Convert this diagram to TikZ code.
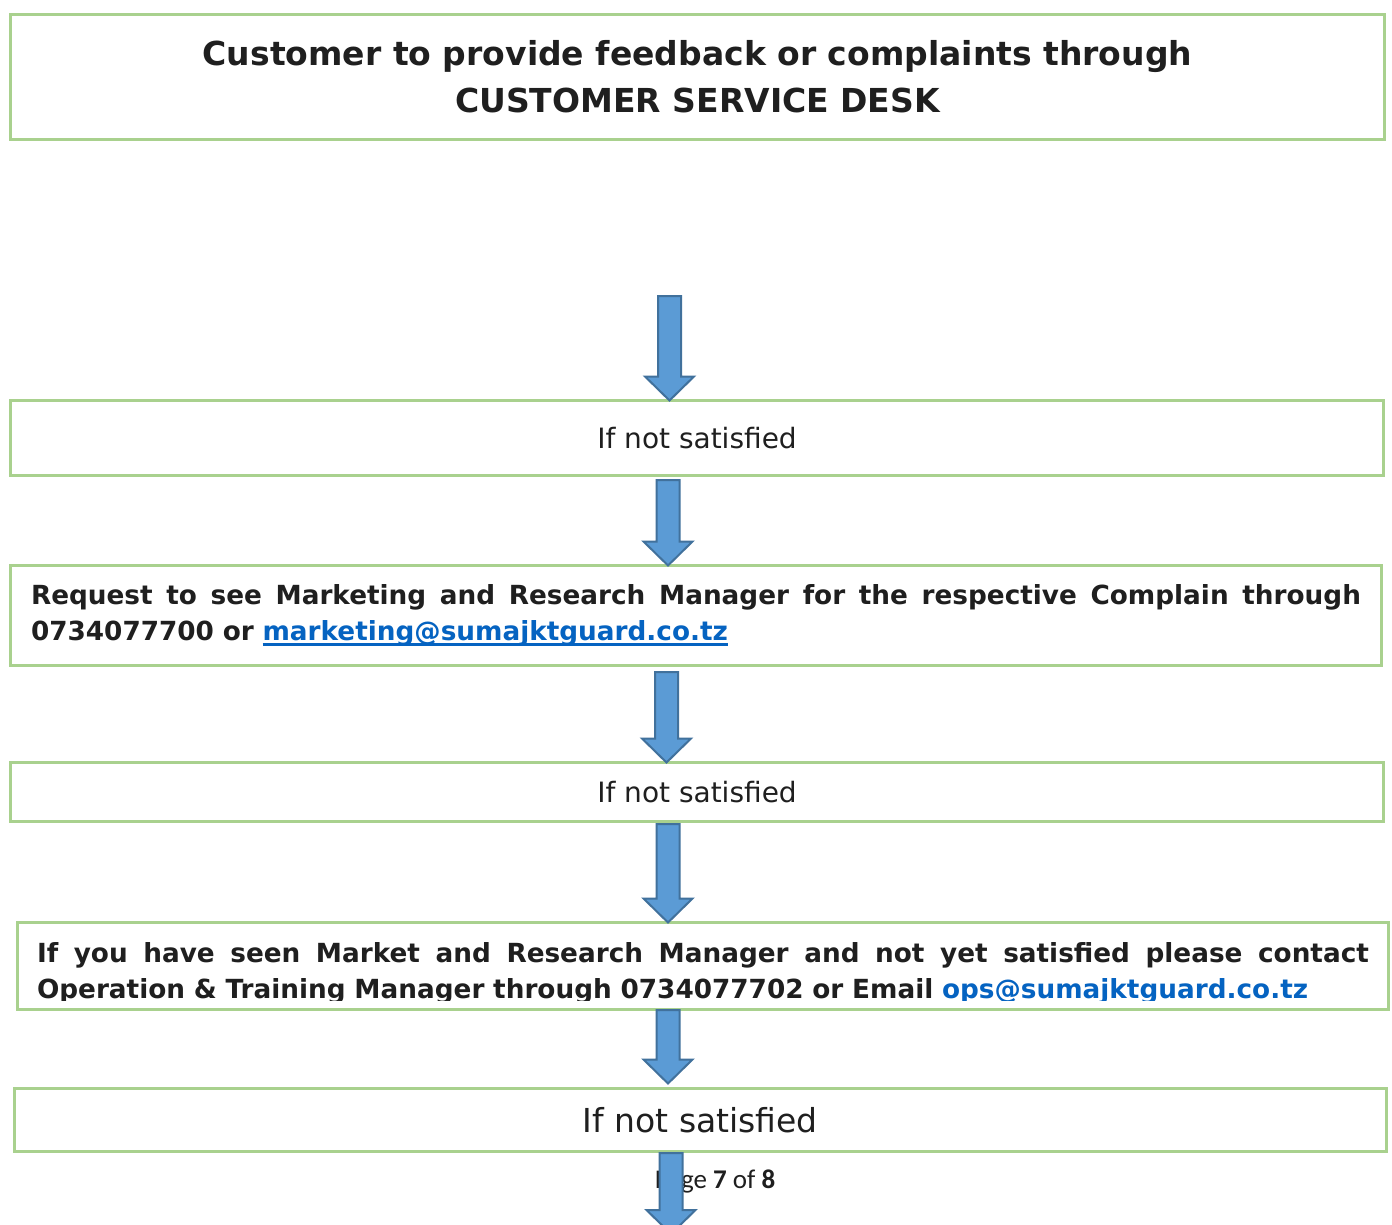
\documentclass[tikz,border=0pt]{standalone}
\usepackage{fontspec}
\setmainfont{DejaVu Sans}
\newfontfamily\pagefont{Carlito}
\usepackage{tikz}
\usetikzlibrary{calc}
\definecolor{boxgreen}{HTML}{A9D18E}
\definecolor{arrowfill}{HTML}{5B9BD5}
\definecolor{arrowline}{HTML}{41719C}
\definecolor{ink}{HTML}{1F1F1F}
\definecolor{link}{HTML}{0563C1}
\tikzset{
  flowbox/.style={draw=boxgreen, line width=3pt, inner sep=0pt, outer sep=0pt},
  blockarrow/.style={fill=arrowfill, draw=arrowline, line width=2pt, line join=miter},
  plain/.style={text=ink, font=\fontsize{28}{34}\selectfont},
  heading/.style={text=ink, font=\fontsize{33}{47}\selectfont\bfseries, align=center},
  body/.style={text=ink, font=\fontsize{26.3}{36}\selectfont\bfseries, align=left},
  pagetext/.style={text=ink, font=\pagefont\fontsize{27}{30}\selectfont}
}
% shaft from #1 down to the tip #2
\newcommand{\flowarrow}[2]{%
  \draw[blockarrow] let \p1=(#1), \p2=(#2) in
    (\x1-11.5pt,\y1) -- (\x1+11.5pt,\y1) -- (\x1+11.5pt,\y2+24pt) -- (\x1+24.5pt,\y2+24pt)
    -- (\x1,\y2) -- (\x1-24.5pt,\y2+24pt) -- (\x1-11.5pt,\y2+24pt) -- cycle;}
% a line spread over its full width, like a justified line
\newcommand{\fullline}[2]{\hbox to #1{\spaceskip=0.35em plus 1fil\relax #2}}
% thick underline for the mail link
\newcommand{\linkline}[1]{\setbox0\hbox{#1}\rlap{\rule[-5pt]{\wd0}{2.5pt}}\box0}

\begin{document}
\begin{tikzpicture}[x=1pt,y=-1pt]
  \clip (0,0) rectangle (1392,1225);
  \fill[white] (0,0) rectangle (1392,1225);

  \node[flowbox, heading, minimum width=1374, minimum height=125] (b1) at (697.5,77)
    {Customer to provide feedback or complaints through\\CUSTOMER SERVICE DESK};
  \node[flowbox, plain, minimum width=1373, minimum height=74.5] (b2) at (697,437.75)
    {If not satisfied};
  \node[flowbox, body, text width=1330, minimum width=1371, minimum height=100] (b3) at (696,615.5)
    {\fullline{1330pt}{Request to see Marketing and Research Manager for the respective Complain through}\\
     0734077700 or \textcolor{link}{\linkline{marketing@sumajktguard.co.tz}}};
  \node[flowbox, plain, minimum width=1373, minimum height=58.5] (b4) at (697,791.75)
    {If not satisfied};
  \node[flowbox, minimum width=1371, minimum height=87] (b5) at (703,966) {};
  \begin{scope} % text runs past the lower edge and is cut off
    \clip (b5.north west) rectangle ($(b5.south east)+(0,-9)$);
    \node[body, text width=1332] (t5) at (703,973)
      {\fullline{1332pt}{If you have seen Market and Research Manager and not yet satisfied please contact}\\
       Operation \& Training Manager through 0734077702 or Email \textcolor{link}{ops@sumajktguard.co.tz}};
  \end{scope}
  \node[flowbox, plain, font=\fontsize{33}{40}\selectfont, minimum width=1372.5, minimum height=62.5] (b6) at (700.25,1119.75)
    {If not satisfied};
  \node[pagetext] (pg) at (715,1181) {Page \textbf{7} of \textbf{8}};

  \coordinate (a1) at (669.5,296);
  \coordinate (a2) at (668,480);
  \coordinate (a3) at (666.5,672);
  \coordinate (a4) at (668,824);
  \coordinate (a5) at (668,1010);
  \coordinate (a6) at (671,1153);
  \coordinate (end) at (671,1234);

  \flowarrow{a1}{a1 |- b2.north}
  \flowarrow{a2}{a2 |- b3.north}
  \flowarrow{a3}{a3 |- b4.north}
  \flowarrow{a4}{a4 |- b5.north}
  \flowarrow{a5}{$(a5 |- b6.north)+(0,-5)$}
  \flowarrow{a6}{end}
\end{tikzpicture}
\end{document}
